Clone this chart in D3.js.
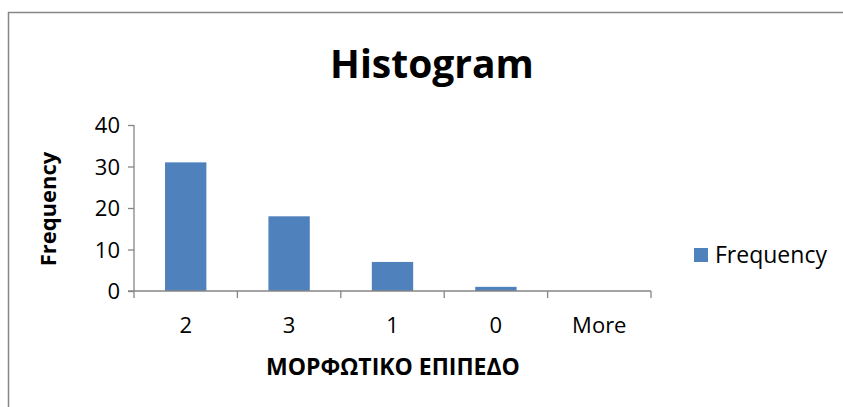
<!DOCTYPE html>
<html>
<head>
<meta charset="utf-8">
<script src="https://cdn.jsdelivr.net/npm/d3@7"></script>
<style>
  html, body { margin: 0; padding: 0; background: #fff; }
  svg { display: block; }
  text { font-family: "Open Sans", "Noto Sans", sans-serif; fill: #000; }
</style>
</head>
<body>
<svg id="chart" width="843" height="407"></svg>
<script>
// Histogram of education level (ΜΟΡΦΩΤΙΚΟ ΕΠΙΠΕΔΟ)
const categories = ["2", "3", "1", "0", "More"];
const frequency = [31, 18, 7, 1, 0];
const yTicks = [0, 10, 20, 30, 40];
const seriesName = "Frequency";

const svg = d3.select("#chart");
const W = 843, H = 407;
const axisGrey = "#868686";

// chart area frame (top and left edges run off the canvas on the other sides)
svg.append("path")
  .attr("d", `M8.5,${H}V12.5H${W}`)
  .attr("fill", "none").attr("stroke", axisGrey).attr("stroke-width", 1.5);

const plot = { left: 134, right: 651, top: 125, bottom: 291 };

const x = d3.scaleBand().domain(categories).range([plot.left, plot.right]);
const y = d3.scaleLinear().domain([0, 40]).range([plot.bottom, plot.top]);

// bars
svg.append("g").selectAll("rect").data(categories).join("rect")
  .attr("x", d => x(d) + x.bandwidth() * 0.3)
  .attr("width", x.bandwidth() * 0.4)
  .attr("y", (d, i) => y(frequency[i]))
  .attr("height", (d, i) => plot.bottom - y(frequency[i]))
  .attr("fill", "#4f81bd");

// y axis
const yAxis = svg.append("g").attr("transform", `translate(${plot.left},0)`)
  .call(d3.axisLeft(y).tickValues(yTicks).tickSize(6).tickPadding(8));
yAxis.select(".domain").attr("stroke", axisGrey).attr("stroke-width", 1.3)
  .attr("d", `M0,${plot.top}V${plot.bottom}`);
yAxis.selectAll(".tick line").attr("stroke", axisGrey).attr("stroke-width", 1.3);
yAxis.selectAll(".tick text").style("font-size", "22px").attr("dy", "0.35em");

// x axis with boundary ticks between categories
const xAxis = svg.append("g").attr("transform", `translate(0,${plot.bottom})`);
xAxis.append("line")
  .attr("x1", plot.left - 6).attr("x2", plot.right)
  .attr("stroke", axisGrey).attr("stroke-width", 1.3);
const bounds = categories.map(c => x(c)).concat([plot.right]);
xAxis.selectAll(".bt").data(bounds).join("line")
  .attr("x1", d => d).attr("x2", d => d)
  .attr("y1", 0).attr("y2", 7)
  .attr("stroke", axisGrey).attr("stroke-width", 1.3);
xAxis.selectAll(".xl").data(categories).join("text")
  .attr("x", d => x(d) + x.bandwidth() / 2)
  .attr("y", 42)
  .attr("text-anchor", "middle")
  .style("font-size", "22px")
  .text(d => d);

// title
svg.append("text").attr("x", 432).attr("y", 78)
  .attr("text-anchor", "middle")
  .style("font-size", "39px").style("font-weight", "bold")
  .text("Histogram");

// axis titles
svg.append("text")
  .attr("transform", `translate(56,${(plot.top + plot.bottom) / 2 + 1}) rotate(-90)`)
  .attr("text-anchor", "middle")
  .style("font-size", "22px").style("font-weight", "bold")
  .text("Frequency");
svg.append("text").attr("x", 393).attr("y", 375)
  .attr("text-anchor", "middle")
  .style("font-size", "23px").style("font-weight", "bold")
  .text("ΜΟΡΦΩΤΙΚΟ ΕΠΙΠΕΔΟ");

// legend
const lg = svg.append("g").attr("transform", "translate(694,248)");
lg.append("rect").attr("width", 14).attr("height", 14).attr("fill", "#4f81bd");
lg.append("text").attr("x", 21).attr("y", 14.5)
  .style("font-size", "23px").text(seriesName);
</script>
</body>
</html>
